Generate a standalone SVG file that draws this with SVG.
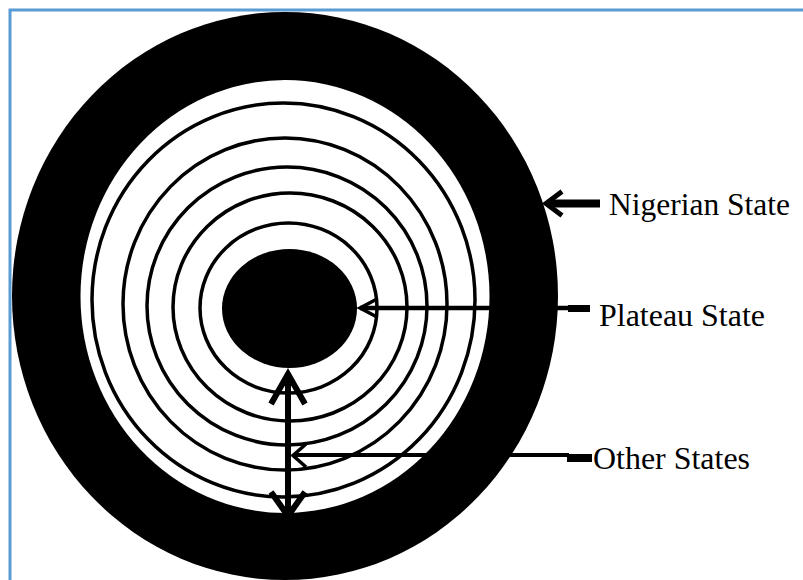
<svg xmlns="http://www.w3.org/2000/svg" width="803" height="580" viewBox="0 0 803 580">
  <style>
    .ring { fill: none; stroke: #000; stroke-width: 3.5; }
    .lbl { font-family: "Liberation Serif", "Times New Roman", serif; font-size: 31px; fill: #000; }
    .ln { stroke: #000; fill: none; stroke-linecap: butt; }
  </style>
  <rect x="0" y="0" width="803" height="580" fill="#fff"/>
  <rect id="frame" x="10" y="10" width="830" height="620" fill="#fff" stroke="#5B9BD5" stroke-width="3"/>

  <g id="nigerian-state">
    <ellipse cx="285" cy="296" rx="273" ry="284" fill="#000"/>
    <ellipse cx="285" cy="296.5" rx="204.5" ry="216.5" fill="#fff"/>
  </g>

  <g id="other-states">
    <ellipse class="ring" cx="283.5" cy="300" rx="191.5" ry="197"/>
    <ellipse class="ring" cx="285" cy="304" rx="162" ry="166"/>
    <ellipse class="ring" cx="287" cy="306" rx="140" ry="139"/>
    <ellipse class="ring" cx="290" cy="307" rx="117" ry="114"/>
    <ellipse class="ring" cx="288.5" cy="308" rx="88.5" ry="85"/>
  </g>

  <g id="plateau-state">
    <ellipse cx="289.5" cy="308.5" rx="67.5" ry="59.5" fill="#000"/>
  </g>

  <g id="connectors">
    <!-- Nigerian State -->
    <line class="ln" x1="548" y1="203.5" x2="600" y2="203.5" stroke-width="8"/>
    <polyline class="ln" points="562,191.5 546,203.5 562,215.5" stroke-width="5"/>
    <!-- Plateau State -->
    <line class="ln" x1="360" y1="308" x2="570" y2="308" stroke-width="4.5"/>
    <line class="ln" x1="568" y1="308.5" x2="590" y2="308.5" stroke-width="7"/>
    <polyline class="ln" points="377,299 360,308 377,317" stroke-width="3.5"/>
    <!-- Other States -->
    <line class="ln" x1="293" y1="455" x2="569" y2="455" stroke-width="4"/>
    <line class="ln" x1="567" y1="458" x2="592" y2="458" stroke-width="8"/>
    <polyline class="ln" points="306,444 293,455.5 306,467" stroke-width="3.5"/>
    <!-- vertical double arrow -->
    <line class="ln" x1="288" y1="374" x2="288" y2="512" stroke-width="6"/>
    <polyline class="ln" points="271,404 288,374 305,404" stroke-width="6"/>
    <polyline class="ln" points="271,492 288,516 305,492" stroke-width="6"/>
  </g>

  <g id="labels">
    <text class="lbl" x="609" y="215" textLength="181" lengthAdjust="spacingAndGlyphs">Nigerian State</text>
    <text class="lbl" x="599" y="326" textLength="166" lengthAdjust="spacingAndGlyphs">Plateau State</text>
    <text class="lbl" x="593" y="468.5" textLength="157" lengthAdjust="spacingAndGlyphs">Other States</text>
  </g>
</svg>
